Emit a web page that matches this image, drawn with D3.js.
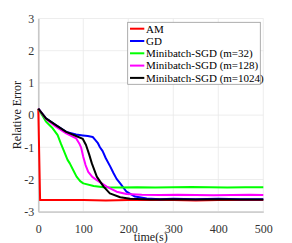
<!DOCTYPE html>
<html>
<head>
<meta charset="utf-8">
<script src="https://cdn.jsdelivr.net/npm/d3@7"></script>
<style>
  body { margin: 0; background: #fff; }
  svg text { font-family: "Liberation Serif", "DejaVu Serif", serif; }
</style>
</head>
<body>
<div id="container"></div>
<script>
// series: time (s) and relative error
var amT = [0, 4, 50, 100, 150, 200, 250, 300, 350, 400, 450, 500];
var amV = [0.2, -2.64, -2.64, -2.64, -2.65, -2.64, -2.64, -2.64, -2.65, -2.64, -2.64, -2.64];

var gdT = [0, 17, 39, 62, 84, 99, 110, 121, 126, 132, 137, 143, 150, 160, 167, 174, 182, 196, 215, 241, 270, 300, 350, 400, 450, 500];
var gdV = [0.2, -0.1, -0.31, -0.52, -0.6, -0.63, -0.65, -0.68, -0.76, -0.86, -1.0, -1.12, -1.34, -1.6, -1.8, -1.98, -2.12, -2.38, -2.53, -2.59, -2.61, -2.6, -2.61, -2.6, -2.61, -2.61];

var m32T = [0, 17, 32, 43, 50, 58, 65, 70, 78, 85, 93, 100, 123, 145, 180, 220, 260, 300, 340, 380, 420, 460, 500];
var m32V = [0.2, -0.2, -0.41, -0.62, -0.88, -1.15, -1.39, -1.5, -1.72, -1.91, -2.05, -2.12, -2.2, -2.24, -2.25, -2.24, -2.25, -2.24, -2.23, -2.24, -2.25, -2.24, -2.24];

var m128T = [0, 17, 39, 62, 84, 91, 95, 100, 105, 111, 120, 130, 152, 174, 196, 230, 270, 310, 350, 390, 430, 470, 500];
var m128V = [0.2, -0.12, -0.36, -0.57, -0.72, -0.88, -1.0, -1.3, -1.55, -1.76, -1.92, -2.02, -2.22, -2.38, -2.45, -2.47, -2.48, -2.47, -2.48, -2.49, -2.48, -2.47, -2.48];

var m1024T = [0, 17, 39, 62, 84, 99, 106, 113, 119, 130, 145, 159, 182, 204, 250, 300, 350, 400, 450, 500];
var m1024V = [0.2, -0.1, -0.31, -0.52, -0.65, -0.74, -0.93, -1.22, -1.5, -1.91, -2.22, -2.43, -2.55, -2.6, -2.62, -2.61, -2.62, -2.61, -2.62, -2.62];

var names = ["AM", "GD", "Minibatch-SGD (m=32)", "Minibatch-SGD (m=128)", "Minibatch-SGD (m=1024)"];
var colors = ["#ff0000", "#0000ff", "#00ff00", "#ff00ff", "#000000"];
var xTicks = [0, 100, 200, 300, 400, 500];
var yTicks = [-3, -2, -1, 0, 1, 2, 3];

var series = [[amT, amV], [gdT, gdV], [m32T, m32V], [m128T, m128V], [m1024T, m1024V]];

const width = 292;
const height = 243;
const serif = "'Liberation Serif', 'DejaVu Serif', serif";

const x = d3.scaleLinear().domain([0, 500]).range([38.3, 263.3]);
const y = d3.scaleLinear().domain([-3, 3]).range([211.7, 18.5]);

const svg = d3.select("#container")
    .append("svg")
        .attr("width", width)
        .attr("height", height);

// grid
svg.append("g")
    .selectAll("line")
    .data(xTicks)
    .join("line")
    .attr("x1", d => x(d)).attr("x2", d => x(d))
    .attr("y1", y(-3)).attr("y2", y(3))
    .attr("stroke", "#e8e8e8").attr("stroke-width", 0.8);

svg.append("g")
    .selectAll("line")
    .data(yTicks)
    .join("line")
    .attr("x1", x(0)).attr("x2", x(500))
    .attr("y1", d => y(d)).attr("y2", d => y(d))
    .attr("stroke", "#e8e8e8").attr("stroke-width", 0.8);

// x-axis
var gx = svg.append("g")
    .attr("transform", "translate(0," + y(-3) + ")")
    .call(d3.axisBottom(x).tickValues(xTicks).tickFormat(d => String(d)).tickSize(0).tickPadding(13));
gx.attr("font-family", serif).attr("font-size", 12);
gx.select(".domain").attr("stroke", "#c0c0c0").attr("stroke-width", 1.2);
gx.selectAll("text").attr("fill", "#333");

// y-axis
var gy = svg.append("g")
    .attr("transform", "translate(" + x(0) + ",0)")
    .call(d3.axisLeft(y).tickValues(yTicks).tickFormat(d => String(d)).tickSize(0).tickPadding(4));
gy.attr("font-family", serif).attr("font-size", 12);
gy.select(".domain").attr("stroke", "#c8c8c8").attr("stroke-width", 1.6);
gy.selectAll("text").attr("fill", "#333");

// lines
const line = d3.line()
    .x(d => x(d[0]))
    .y(d => y(d[1]));

series.forEach((s, i) => {
    var pts = s[0].map((t, j) => [t, s[1][j]]);
    svg.append("path")
        .datum(pts)
        .attr("fill", "none")
        .attr("stroke", colors[i])
        .attr("stroke-width", 2)
        .attr("stroke-linejoin", "round")
        .attr("d", line);
});

// labels
svg.append("text")
    .attr("x", (x(0) + x(500)) / 2)
    .attr("y", 241)
    .attr("text-anchor", "middle")
    .attr("font-size", 12)
    .attr("fill", "#222")
    .text("time(s)");

svg.append("text")
    .attr("transform", "translate(17," + ((y(3) + y(-3)) / 2) + ")rotate(-90)")
    .attr("text-anchor", "middle")
    .attr("dy", "0.35em")
    .attr("font-size", 12)
    .attr("fill", "#222")
    .text("Relative Error");

// legend
var lg = svg.append("g");
lg.append("rect")
    .attr("x", 127.7).attr("y", 22.3)
    .attr("width", 132.6).attr("height", 62)
    .attr("fill", "#fff")
    .attr("stroke", "#999").attr("stroke-width", 0.8);

names.forEach((n, i) => {
    var cy = 28.7 + i * 12.3;
    lg.append("line")
        .attr("x1", 130).attr("x2", 144.3)
        .attr("y1", cy).attr("y2", cy)
        .attr("stroke", colors[i]).attr("stroke-width", 2);
    lg.append("text")
        .attr("x", 146)
        .attr("y", cy + 3.8)
        .attr("font-size", 11)
        .attr("fill", "#000")
        .text(n);
});
</script>
</body>
</html>
